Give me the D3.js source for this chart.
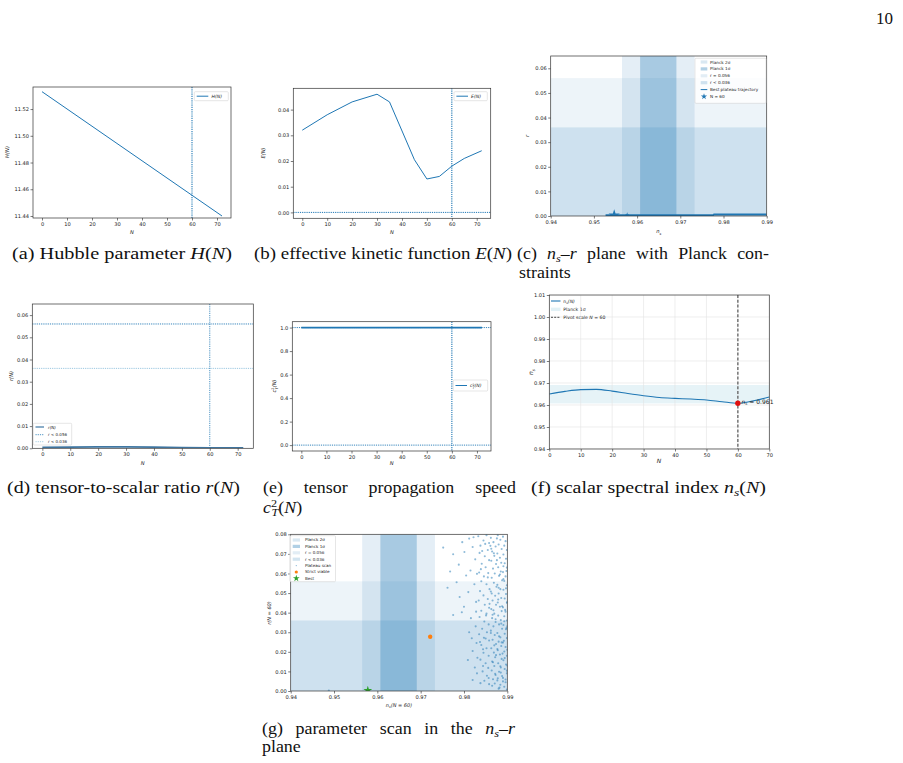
<!DOCTYPE html>
<html>
<head>
<meta charset="utf-8">
<script src="https://cdn.jsdelivr.net/npm/d3@7"></script>
<style>
  body { margin: 0; background: #fff; }
  svg { display: block; }
</style>
</head>
<body>
<script>
// ---------- data ----------
var nTicks = [0, 10, 20, 30, 40, 50, 60, 70];

// (a) Hubble parameter
var hubbleN = [0, 72];
var hubbleH = [11.533, 11.440];
var hubbleTicks = [11.44, 11.46, 11.48, 11.50, 11.52];

// (b) effective kinetic function
var kinN = [0, 10, 20, 30, 35, 45, 50, 55, 60, 65, 72];
var kinE = [0.032, 0.038, 0.043, 0.046, 0.043, 0.0205, 0.013, 0.014, 0.018, 0.021, 0.024];
var kinTicks = [0.00, 0.01, 0.02, 0.03, 0.04];

// (c) / (g) Planck constraints
var planck1s = [0.9607, 0.9691];
var planck2s = [0.9565, 0.9733];
var rBounds = [0.056, 0.036];
var nsPlaneTicks = [0.94, 0.95, 0.96, 0.97, 0.98, 0.99];
var rPlaneTicksC = [0.00, 0.01, 0.02, 0.03, 0.04, 0.05, 0.06];
var rPlaneTicksG = [0.00, 0.01, 0.02, 0.03, 0.04, 0.05, 0.06, 0.07, 0.08];

// (c) best plateau trajectory
var trajNs = [0.9527, 0.9560, 0.9600, 0.9650, 0.9700, 0.9776, 0.9778, 0.9900];
var trajR = [0.0003, 0.0003, 0.0003, 0.0003, 0.0003, 0.0003, 0.0006, 0.0006];
var pivotNs = 0.9547, pivotR = 0.0003;
var pivot2Ns = 0.9577, pivot2R = 0.0005;

// (d) tensor-to-scalar ratio
var rN = [0, 10, 20, 30, 40, 50, 60, 72];
var rVal = [0.0004, 0.0005, 0.0006, 0.0006, 0.0005, 0.0003, 0.0002, 0.0002];
var rTicks = [0.00, 0.01, 0.02, 0.03, 0.04, 0.05, 0.06];

// (e) tensor speed
var cN = [0, 72];
var cVal = [1, 1];
var cTicks = [0.0, 0.2, 0.4, 0.6, 0.8, 1.0];

// (f) scalar spectral index
var nsN = [0, 5, 10, 15, 20, 25, 30, 35, 40, 45, 50, 55, 60, 65, 70];
var nsVal = [0.9650, 0.9662, 0.9670, 0.9671, 0.9663, 0.9652, 0.9642, 0.9634, 0.9630, 0.9627, 0.9623, 0.9615, 0.9608, 0.9619, 0.9636];
var nsTicks = [0.94, 0.95, 0.96, 0.97, 0.98, 0.99, 1.00, 1.01];
var nsPivot = 0.9608;

// (g) plateau scan
var scanNs = [
  0.9488, 0.9752, 0.9775, 0.9762, 0.9775, 0.9795, 0.9818, 0.9820, 0.9809, 0.9820, 0.9838, 0.9788, 0.9801, 0.9812, 0.9796, 0.9820,
  0.9805, 0.9815, 0.9826, 0.9790, 0.9810, 0.9824, 0.9800, 0.9828, 0.9816, 0.9827, 0.9812, 0.9829, 0.9825, 0.9830, 0.9822, 0.9830,
  0.9783, 0.9768, 0.9828, 0.9831,
  0.9833, 0.9838, 0.9845, 0.9852, 0.9858, 0.9836, 0.9848, 0.9855, 0.9841, 0.9850, 0.9858, 0.9835, 0.9846, 0.9856, 0.9840, 0.9852,
  0.9859, 0.9837, 0.9845, 0.9855, 0.9834, 0.9848, 0.9858, 0.9840, 0.9852, 0.9836, 0.9847, 0.9857, 0.9842, 0.9853, 0.9835, 0.9846,
  0.9858, 0.9840, 0.9852, 0.9845, 0.9857, 0.9838, 0.9850, 0.9856, 0.9843, 0.9853, 0.9847, 0.9858, 0.9850, 0.9842, 0.9855, 0.9837,
  0.9859, 0.9844, 0.9839, 0.9851, 0.9844, 0.9857, 0.9849,
  0.9862, 0.9868, 0.9873, 0.9865, 0.9870, 0.9863, 0.9874, 0.9867, 0.9871, 0.9864, 0.9869, 0.9875, 0.9862, 0.9872, 0.9866, 0.9874,
  0.9863, 0.9870, 0.9865, 0.9873, 0.9868, 0.9862, 0.9871, 0.9866, 0.9874, 0.9863, 0.9869, 0.9872, 0.9865, 0.9870, 0.9864, 0.9873,
  0.9867, 0.9871,
  0.9878, 0.9884, 0.9880, 0.9887, 0.9877, 0.9883, 0.9886, 0.9879, 0.9885, 0.9881, 0.9888, 0.9877, 0.9884, 0.9880, 0.9886, 0.9878,
  0.9883, 0.9887, 0.9879, 0.9885, 0.9881, 0.9888, 0.9877, 0.9884, 0.9880, 0.9886, 0.9878, 0.9883, 0.9887, 0.9879, 0.9885, 0.9881,
  0.9888, 0.9877, 0.9884, 0.9880,
  0.9890, 0.9896, 0.9893, 0.9899, 0.9891, 0.9897, 0.9894, 0.9899, 0.9890, 0.9896, 0.9893, 0.9899, 0.9891, 0.9897, 0.9894, 0.9899,
  0.9890, 0.9896, 0.9893, 0.9899, 0.9891, 0.9897, 0.9894, 0.9899, 0.9890, 0.9896, 0.9893, 0.9899, 0.9891, 0.9897, 0.9894, 0.9899,
  0.9890, 0.9896, 0.9893, 0.9899, 0.9900, 0.9900, 0.9900, 0.9900,
  0.9861, 0.9869, 0.9876, 0.9883, 0.9891, 0.9897, 0.9864, 0.9879, 0.9888, 0.9895, 0.9866, 0.9873, 0.9886, 0.9898, 0.9862, 0.9881,
  0.9892, 0.9870, 0.9877, 0.9889, 0.9894, 0.9867, 0.9884, 0.9899, 0.9872, 0.9878, 0.9890, 0.9865, 0.9882, 0.9896, 0.9874, 0.9887,
  0.9893, 0.9868, 0.9880, 0.9898, 0.9863, 0.9876, 0.9891, 0.9885
];
var scanR = [
  0.0002, 0.0732, 0.0698, 0.0527, 0.0388, 0.0402, 0.0269, 0.0204, 0.0158, 0.0056, 0.0040, 0.0645, 0.0710, 0.0778, 0.0760, 0.0735,
  0.0590, 0.0615, 0.0672, 0.0480, 0.0505, 0.0545, 0.0430, 0.0455, 0.0372, 0.0330, 0.0300, 0.0245, 0.0120, 0.0090, 0.0785, 0.0598,
  0.0555, 0.0610, 0.0405, 0.0170,
  0.0790, 0.0742, 0.0768, 0.0795, 0.0755, 0.0705, 0.0688, 0.0720, 0.0650, 0.0632, 0.0668, 0.0605, 0.0585, 0.0602, 0.0560, 0.0545,
  0.0520, 0.0510, 0.0488, 0.0470, 0.0462, 0.0440, 0.0425, 0.0410, 0.0395, 0.0378, 0.0355, 0.0340, 0.0318, 0.0300, 0.0290, 0.0272,
  0.0258, 0.0235, 0.0218, 0.0195, 0.0180, 0.0160, 0.0142, 0.0118, 0.0100, 0.0078, 0.0052, 0.0035, 0.0268, 0.0715, 0.0580, 0.0250,
  0.0445, 0.0128, 0.0622, 0.0386, 0.0213, 0.0066, 0.0751,
  0.0782, 0.0760, 0.0738, 0.0712, 0.0690, 0.0665, 0.0648, 0.0625, 0.0600, 0.0578, 0.0553, 0.0532, 0.0508, 0.0486, 0.0462, 0.0440,
  0.0418, 0.0395, 0.0372, 0.0352, 0.0330, 0.0308, 0.0286, 0.0262, 0.0240, 0.0218, 0.0196, 0.0172, 0.0150, 0.0128, 0.0105, 0.0082,
  0.0060, 0.0038,
  0.0795, 0.0772, 0.0748, 0.0725, 0.0702, 0.0680, 0.0655, 0.0632, 0.0610, 0.0588, 0.0565, 0.0542, 0.0520, 0.0498, 0.0475, 0.0452,
  0.0430, 0.0408, 0.0385, 0.0362, 0.0340, 0.0318, 0.0296, 0.0274, 0.0252, 0.0230, 0.0208, 0.0186, 0.0164, 0.0142, 0.0120, 0.0098,
  0.0076, 0.0054, 0.0032, 0.0012,
  0.0788, 0.0765, 0.0742, 0.0720, 0.0697, 0.0675, 0.0652, 0.0630, 0.0607, 0.0585, 0.0562, 0.0540, 0.0517, 0.0495, 0.0472, 0.0450,
  0.0427, 0.0405, 0.0382, 0.0360, 0.0337, 0.0315, 0.0292, 0.0270, 0.0247, 0.0225, 0.0202, 0.0180, 0.0157, 0.0135, 0.0112, 0.0090,
  0.0067, 0.0045, 0.0022, 0.0008, 0.0210, 0.0455, 0.0130, 0.0330,
  0.0741, 0.0703, 0.0668, 0.0595, 0.0571, 0.0524, 0.0498, 0.0467, 0.0433, 0.0414, 0.0389, 0.0366, 0.0344, 0.0321, 0.0296, 0.0279,
  0.0256, 0.0233, 0.0214, 0.0191, 0.0168, 0.0147, 0.0126, 0.0104, 0.0088, 0.0065, 0.0049, 0.0027, 0.0017, 0.0059, 0.0183, 0.0248,
  0.0356, 0.0412, 0.0527, 0.0613, 0.0726, 0.0779, 0.0637, 0.0094
];
var strictNs = [0.9722], strictR = [0.0277];
var bestNs = [0.9578], bestR = [0.0003];

// ---------- helpers ----------
var C0 = "#1f77b4";
var svg = d3.select("body").append("svg").attr("width", 903).attr("height", 763);
var clipN = 0;

function makeAxes(box, xd, yd) {
  var x = d3.scaleLinear().domain(xd).range([box[0], box[2]]);
  var y = d3.scaleLinear().domain(yd).range([box[3], box[1]]);
  var id = "clip" + (clipN++);
  svg.append("clipPath").attr("id", id).append("rect")
    .attr("x", box[0]).attr("y", box[1]).attr("width", box[2] - box[0]).attr("height", box[3] - box[1]);
  var g = svg.append("g").attr("clip-path", "url(#" + id + ")");
  return { x: x, y: y, g: g, box: box };
}

function finishAxes(p, xt, yt, fx, fy, fs) {
  var b = p.box;
  var ax = svg.append("g").attr("transform", "translate(0," + b[3] + ")")
    .call(d3.axisBottom(p.x).tickValues(xt).tickFormat(fx).tickSize(2.5).tickPadding(1.5));
  var ay = svg.append("g").attr("transform", "translate(" + b[0] + ",0)")
    .call(d3.axisLeft(p.y).tickValues(yt).tickFormat(fy).tickSize(2.5).tickPadding(1.5));
  [ax, ay].forEach(function (a) {
    a.attr("font-family", "DejaVu Sans").attr("font-size", fs || 5.1).attr("color", "#222");
    a.select(".domain").remove();
    a.selectAll(".tick line").attr("stroke-width", 0.6);
  });
  svg.append("rect").attr("x", b[0]).attr("y", b[1])
    .attr("width", b[2] - b[0]).attr("height", b[3] - b[1])
    .attr("fill", "none").attr("stroke", "#333").attr("stroke-width", 0.7);
}

// segs: [text, style, dx]; style "" roman, "i" italic, "_" subscript, "^" superscript
function rich(t, segs, fs, subDrop) {
  var off = 0;
  segs.forEach(function (s) {
    var st = s[1] || "";
    var target = st === "_" ? fs * (subDrop || 0.3) : st === "^" ? -fs * 0.36 : 0;
    var ts = t.append("tspan").text(s[0]).attr("dy", target - off);
    off = target;
    if (st === "_" || st === "^") ts.attr("font-size", fs * 0.68);
    if (st === "i" || st === "_") ts.attr("font-style", "italic");
    if (s[2]) ts.attr("dx", s[2]);
  });
}

function label(x, y, segs, fs, rot, anchor) {
  var t = svg.append("text").attr("font-family", "DejaVu Sans").attr("font-size", fs)
    .attr("fill", "#222").attr("text-anchor", anchor || "middle")
    .attr("transform", "translate(" + x + "," + y + ")" + (rot ? " rotate(-90)" : ""));
  rich(t, segs, fs);
  return t;
}

function captionLine(words, x0, y, width, justify) {
  var fs = 16;
  var g = svg.append("g");
  var ts = words.map(function (w) {
    var t = g.append("text").attr("font-family", "Liberation Serif").attr("font-size", fs).attr("fill", "#111");
    rich(t, w, fs, 0.2);
    return t;
  });
  var ws = ts.map(function (t) { return t.node().getComputedTextLength(); });
  var sum = d3.sum(ws), sp = fs * 0.25, s, gap;
  if (justify) { s = 1.12; gap = (width - s * sum) / (words.length - 1); }
  else if (width) { s = width / (sum + sp * (words.length - 1)); gap = sp * s; }
  else { s = 1.12; gap = sp * s; }
  var cx = 0;
  ts.forEach(function (t, i) { t.attr("x", cx / s); cx += ws[i] * s + gap; });
  g.attr("transform", "translate(" + x0 + "," + y + ") scale(" + s + ",1)");
}

function legendBox(x, y, w, h) {
  svg.append("rect").attr("x", x).attr("y", y).attr("width", w).attr("height", h).attr("rx", 1)
    .attr("fill", "#fff").attr("fill-opacity", 0.8).attr("stroke", "#ccc").attr("stroke-width", 0.5);
}

function dotted(p, x1, y1, x2, y2, color, w) {
  p.g.append("line").attr("x1", x1).attr("y1", y1).attr("x2", x2).attr("y2", y2)
    .attr("stroke", color || C0).attr("stroke-width", w || 1).attr("stroke-dasharray", "1.2,1");
}

function planckBands(p) {
  var b = p.box;
  var bands = [[planck2s, 0.12], [planck1s, 0.3]];
  bands.forEach(function (d) {
    p.g.append("rect").attr("x", p.x(d[0][0])).attr("width", p.x(d[0][1]) - p.x(d[0][0]))
      .attr("y", b[1]).attr("height", b[3] - b[1]).attr("fill", C0).attr("fill-opacity", d[1]);
  });
  [[rBounds[0], 0.08], [rBounds[1], 0.15]].forEach(function (d) {
    p.g.append("rect").attr("x", b[0]).attr("width", b[2] - b[0])
      .attr("y", p.y(d[0])).attr("height", p.y(0) - p.y(d[0])).attr("fill", C0).attr("fill-opacity", d[1]);
  });
}

var line = function (p) { return d3.line().x(function (d) { return p.x(d[0]); }).y(function (d) { return p.y(d[1]); }); };
var f2 = d3.format(".2f"), f1 = d3.format(".1f"), fd = d3.format("d");

// ---------- (a) Hubble parameter ----------
var pA = makeAxes([33, 87, 231, 218], [-3.6, 75.6], [11.4385, 11.5365]);
dotted(pA, pA.x(60), 87, pA.x(60), 218, C0, 1.1);
pA.g.append("path").datum(d3.zip(hubbleN, hubbleH)).attr("d", line(pA))
  .attr("fill", "none").attr("stroke", C0).attr("stroke-width", 1);
finishAxes(pA, nTicks, hubbleTicks, fd, f2);
label(132, 234, [["N", "i"]], 5.2);
label(9, 152, [["H(N)", "i"]], 5.2, true);
legendBox(194.3, 91.7, 34, 9);
svg.append("line").attr("x1", 196.7).attr("x2", 208.3).attr("y1", 96.2).attr("y2", 96.2).attr("stroke", C0).attr("stroke-width", 1);
label(211.5, 97.9, [["H(N)", "i"]], 4.6, false, "start");

// ---------- (b) effective kinetic function ----------
var pB = makeAxes([293.3, 88.3, 490.7, 218.3], [-3.6, 75.6], [-0.0023, 0.0483]);
dotted(pB, 293.3, pB.y(0), 490.7, pB.y(0), C0, 1);
dotted(pB, pB.x(60), 88.3, pB.x(60), 218.3, C0, 1.1);
pB.g.append("path").datum(d3.zip(kinN, kinE)).attr("d", line(pB))
  .attr("fill", "none").attr("stroke", C0).attr("stroke-width", 1);
finishAxes(pB, nTicks, kinTicks, fd, f2);
label(392, 234, [["N", "i"]], 5.2);
label(265, 153, [["E(N)", "i"]], 5.2, true);
legendBox(454, 91.7, 33.3, 9);
svg.append("line").attr("x1", 456.4).attr("x2", 468).attr("y1", 96.2).attr("y2", 96.2).attr("stroke", C0).attr("stroke-width", 1);
label(471, 97.9, [["E(N)", "i"]], 4.6, false, "start");

// ---------- (c) ns-r plane ----------
var pC = makeAxes([550.7, 56, 766.7, 216], [0.94, 0.99], [0, 0.065]);
planckBands(pC);
pC.g.append("path").datum(d3.zip(trajNs, trajR)).attr("d", line(pC))
  .attr("fill", "none").attr("stroke", C0).attr("stroke-width", 1.8);
pC.g.append("path").attr("d", d3.symbol(d3.symbolStar, 40)())
  .attr("transform", "translate(" + pC.x(pivotNs) + "," + pC.y(pivotR) + ")").attr("fill", C0);
pC.g.append("path").attr("d", d3.symbol(d3.symbolStar, 7)())
  .attr("transform", "translate(" + pC.x(pivot2Ns) + "," + pC.y(pivot2R) + ")").attr("fill", C0);
finishAxes(pC, nsPlaneTicks, rPlaneTicksC, f2, f2);
label(658.7, 233, [["n", "i"], ["s", "_"]], 5.2);
label(529, 136, [["r", "i"]], 5.2, true);
legendBox(695, 58.3, 71, 45);
var legC = [["Planck 2σ", 0.12], ["Planck 1σ", 0.3], ["r = 0.056", 0.08], ["r < 0.036", 0.15], ["Best plateau trajectory", -1], ["N = 60", -2]];
legC.forEach(function (d, i) {
  var yy = 62 + i * 6.9;
  if (d[1] > 0) {
    svg.append("rect").attr("x", 700.7).attr("y", yy - 1.6).attr("width", 6.6).attr("height", 3.2)
      .attr("fill", C0).attr("fill-opacity", d[1] + 0.05);
  } else if (d[1] === -1) {
    svg.append("line").attr("x1", 700.7).attr("x2", 707.3).attr("y1", yy).attr("y2", yy).attr("stroke", C0).attr("stroke-width", 1);
  } else {
    svg.append("path").attr("d", d3.symbol(d3.symbolStar, 12)()).attr("transform", "translate(704," + yy + ")").attr("fill", C0);
  }
  label(710, yy + 1.5, [[d[0]]], 4.2, false, "start");
});

// ---------- (d) tensor-to-scalar ratio ----------
var pD = makeAxes([32.3, 304, 253.3, 448.3], [-3.6, 75.6], [0, 0.065]);
dotted(pD, 32.3, pD.y(rBounds[0]), 253.3, pD.y(rBounds[0]), C0, 0.9);
dotted(pD, 32.3, pD.y(rBounds[1]), 253.3, pD.y(rBounds[1]), "#8fc1dc", 0.9);
dotted(pD, pD.x(60), 304, pD.x(60), 448.3, C0, 0.8);
pD.g.append("path").datum(d3.zip(rN, rVal)).attr("d", line(pD))
  .attr("fill", "none").attr("stroke", "#3f77a3").attr("stroke-width", 1.8);
finishAxes(pD, nTicks, rTicks, fd, f2);
label(142.8, 465, [["N", "i"]], 5.2);
label(12.5, 376, [["r(N)", "i"]], 5.2, true);
legendBox(33.3, 423.3, 38.4, 21.7);
svg.append("line").attr("x1", 35.5).attr("x2", 44).attr("y1", 427).attr("y2", 427).attr("stroke", "#3f77a3").attr("stroke-width", 1.2);
svg.append("line").attr("x1", 35.5).attr("x2", 44).attr("y1", 434.7).attr("y2", 434.7).attr("stroke", C0).attr("stroke-width", 0.8).attr("stroke-dasharray", "1.2,1");
svg.append("line").attr("x1", 35.5).attr("x2", 44).attr("y1", 441.7).attr("y2", 441.7).attr("stroke", "#8fc1dc").attr("stroke-width", 0.8).attr("stroke-dasharray", "1.2,1");
label(48, 428.5, [["r(N)", "i"]], 4, false, "start");
label(48, 436.2, [["r", "i"], [" < 0.056"]], 4, false, "start");
label(48, 443.2, [["r", "i"], [" < 0.036"]], 4, false, "start");

// ---------- (e) tensor propagation speed ----------
var pE = makeAxes([292.3, 321.7, 491, 451], [-3.6, 75.6], [-0.05, 1.05]);
dotted(pE, 292.3, pE.y(0), 491, pE.y(0), C0, 0.9);
dotted(pE, 292.3, pE.y(1), 491, pE.y(1), C0, 0.9);
dotted(pE, pE.x(60), 321.7, pE.x(60), 451, C0, 1.1);
pE.g.append("path").datum(d3.zip(cN, cVal)).attr("d", line(pE))
  .attr("fill", "none").attr("stroke", C0).attr("stroke-width", 1.6);
finishAxes(pE, nTicks, cTicks, fd, f1);
label(391.7, 465, [["N", "i"]], 5.2);
label(276, 386, [["c", "i"], ["2", "^"], ["T", "_", -2], ["(N)", "i"]], 5.2, true);
legendBox(453.3, 380, 34.4, 11);
svg.append("line").attr("x1", 455.5).attr("x2", 467).attr("y1", 385.5).attr("y2", 385.5).attr("stroke", C0).attr("stroke-width", 1);
label(470, 387.2, [["c", "i"], ["2", "^"], ["T", "_", -2], ["(N)", "i"]], 4.6, false, "start");

// ---------- (f) scalar spectral index ----------
var pF = makeAxes([549.3, 295, 769.3, 449], [0, 70], [0.94, 1.01]);
pF.g.append("rect").attr("x", 549.3).attr("width", 220).attr("y", pF.y(planck1s[1]))
  .attr("height", pF.y(planck1s[0]) - pF.y(planck1s[1])).attr("fill", "#add8e6").attr("fill-opacity", 0.3);
nTicks.forEach(function (v) {
  pF.g.append("line").attr("x1", pF.x(v)).attr("x2", pF.x(v)).attr("y1", 295).attr("y2", 449).attr("stroke", "#e3e3e3").attr("stroke-width", 0.6);
});
nsTicks.forEach(function (v) {
  pF.g.append("line").attr("y1", pF.y(v)).attr("y2", pF.y(v)).attr("x1", 549.3).attr("x2", 769.3).attr("stroke", "#e3e3e3").attr("stroke-width", 0.6);
});
pF.g.append("line").attr("x1", pF.x(60)).attr("x2", pF.x(60)).attr("y1", 295).attr("y2", 449)
  .attr("stroke", "#555").attr("stroke-width", 1.2).attr("stroke-dasharray", "3,1.8");
pF.g.append("path").datum(d3.zip(nsN, nsVal)).attr("d", line(pF).curve(d3.curveMonotoneX))
  .attr("fill", "none").attr("stroke", C0).attr("stroke-width", 1.1);
pF.g.append("circle").attr("cx", pF.x(60)).attr("cy", pF.y(nsPivot)).attr("r", 2.7).attr("fill", "#e01010");
finishAxes(pF, nTicks, nsTicks, fd, f2, 5.1);
label(741.5, 403.5, [["n", "i"], ["s", "_"], [" = 0.961"]], 6, false, "start");
label(659, 463, [["N", "i"]], 6);
label(533, 372, [["n", "i"], ["s", "_"]], 6, true);
svg.append("line").attr("x1", 551).attr("x2", 560.5).attr("y1", 301).attr("y2", 301).attr("stroke", C0).attr("stroke-width", 1.1);
svg.append("rect").attr("x", 551).attr("y", 307.6).attr("width", 9.5).attr("height", 3.4).attr("fill", "#add8e6").attr("fill-opacity", 0.35);
svg.append("line").attr("x1", 551).attr("x2", 560.5).attr("y1", 317.3).attr("y2", 317.3).attr("stroke", "#333").attr("stroke-width", 0.9).attr("stroke-dasharray", "2,1.2");
label(563.3, 302.6, [["n", ""], ["s", "_"], ["(N)", "i"]], 4.6, false, "start");
label(563.3, 310.9, [["Planck 1σ"]], 4.6, false, "start");
label(563.3, 318.9, [["Pivot scale "], ["N", "i"], [" = 60"]], 4.6, false, "start");

// ---------- (g) parameter scan ----------
var pG = makeAxes([290.7, 534.3, 507.3, 691], [0.94, 0.99], [0, 0.08]);
planckBands(pG);
pG.g.selectAll("circle.scan").data(d3.zip(scanNs, scanR)).enter().append("circle")
  .attr("cx", function (d) { return pG.x(d[0]); }).attr("cy", function (d) { return pG.y(d[1]); })
  .attr("r", 1.05).attr("fill", C0).attr("fill-opacity", 0.5);
pG.g.selectAll("circle.strict").data(d3.zip(strictNs, strictR)).enter().append("circle")
  .attr("cx", function (d) { return pG.x(d[0]); }).attr("cy", function (d) { return pG.y(d[1]); })
  .attr("r", 2.2).attr("fill", "#ff7f0e");
pG.g.selectAll("path.best").data(d3.zip(bestNs, bestR)).enter().append("path")
  .attr("d", d3.symbol(d3.symbolStar, 24)())
  .attr("transform", function (d) { return "translate(" + pG.x(d[0]) + "," + pG.y(d[1]) + ")"; })
  .attr("fill", "#2ca02c");
finishAxes(pG, nsPlaneTicks, rPlaneTicksG, f2, f2);
label(399, 706.5, [["n", "i"], ["s", "_"], ["(N = 60)", "i"]], 5);
label(271, 613, [["r(N = 60)", "i"]], 5, true);
legendBox(289.8, 535.7, 45.7, 46);
var legG = [["Planck 2σ", 0.12], ["Planck 1σ", 0.3], ["r = 0.056", 0.08], ["r < 0.036", 0.15], ["Plateau scan", -1], ["Strict viable", -2], ["Best", -3]];
legG.forEach(function (d, i) {
  var yy = 540 + i * 6.4;
  if (d[1] > 0) {
    svg.append("rect").attr("x", 292.7).attr("y", yy - 1.6).attr("width", 7.3).attr("height", 3.2)
      .attr("fill", C0).attr("fill-opacity", d[1] + 0.05);
  } else if (d[1] === -1) {
    svg.append("circle").attr("cx", 296.3).attr("cy", yy).attr("r", 0.7).attr("fill", C0).attr("fill-opacity", 0.5);
  } else if (d[1] === -2) {
    svg.append("circle").attr("cx", 296.3).attr("cy", yy).attr("r", 1.6).attr("fill", "#ff7f0e");
  } else {
    svg.append("path").attr("d", d3.symbol(d3.symbolStar, 14)()).attr("transform", "translate(296.3," + yy + ")").attr("fill", "#2ca02c");
  }
  label(305, yy + 1.4, [[d[0]]], 4.1, false, "start");
});

// ---------- captions and page number ----------
svg.append("text").attr("x", 893).attr("y", 24).attr("text-anchor", "end")
  .attr("font-family", "Liberation Serif").attr("font-size", 17).attr("fill", "#111").text("10");

captionLine([[["(a)"]], [["Hubble"]], [["parameter"]], [["H", "i"], ["("], ["N", "i"], [")"]]], 12, 259, 220, false);
captionLine([[["(b)"]], [["effective"]], [["kinetic"]], [["function"]], [["E", "i"], ["("], ["N", "i"], [")"]]], 254, 259, 258, false);
captionLine([[["(c)"]], [["n", "i"], ["s", "_"], ["–"], ["r", "i"]], [["plane"]], [["with"]], [["Planck"]], [["con-"]]], 517, 259, 252, true);
captionLine([[["straints"]]], 519, 278, null, false);
captionLine([[["(d)"]], [["tensor-to-scalar"]], [["ratio"]], [["r", "i"], ["("], ["N", "i"], [")"]]], 7, 493, 233, false);
captionLine([[["(e)"]], [["tensor"]], [["propagation"]], [["speed"]]], 263, 493, 253, true);
captionLine([[["c", "i"], ["2", "^"], ["T", "_", -5], ["("], ["N", "i"], [")"]]], 263, 513, null, false);
captionLine([[["(f)"]], [["scalar"]], [["spectral"]], [["index"]], [["n", "i"], ["s", "_"], ["("], ["N", "i"], [")"]]], 531, 493, 235, false);
captionLine([[["(g)"]], [["parameter"]], [["scan"]], [["in"]], [["the"]], [["n", "i"], ["s", "_"], ["–"], ["r", "i"]]], 262, 734, 253, true);
captionLine([[["plane"]]], 262, 752, null, false);
</script>
</body>
</html>
